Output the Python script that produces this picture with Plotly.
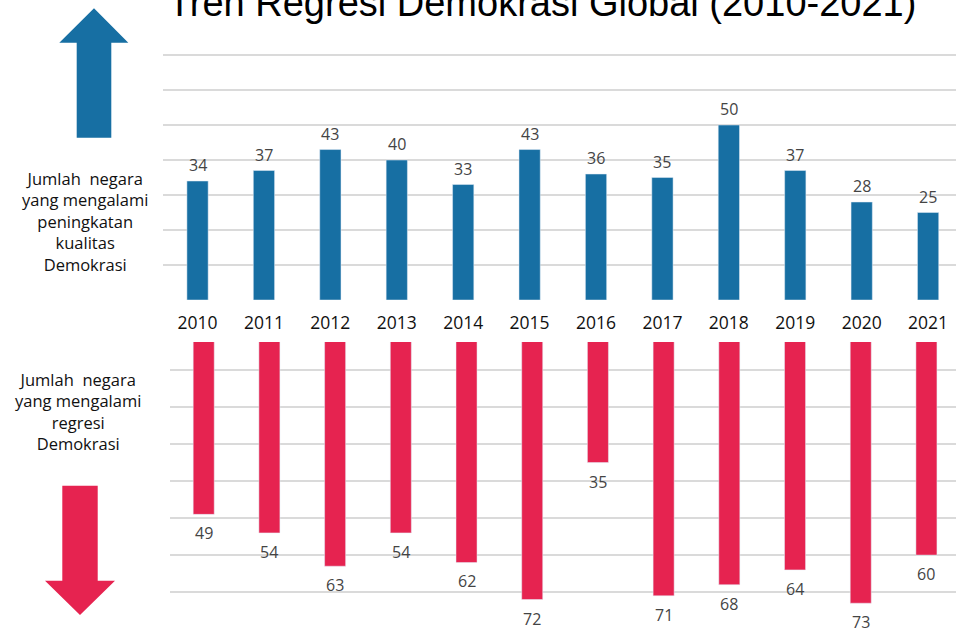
import plotly.graph_objects as go

years = ["2010", "2011", "2012", "2013", "2014", "2015", "2016", "2017", "2018", "2019", "2020", "2021"]
improved = [34, 37, 43, 40, 33, 43, 36, 35, 50, 37, 28, 25]
regressed = [49, 54, 63, 54, 62, 72, 35, 71, 68, 64, 73, 60]

title_text = "Tren Regresi Demokrasi Global (2010-2021)"
up_label = "Jumlah  negara<br>yang mengalami<br>peningkatan<br>kualitas<br>Demokrasi"
down_label = "Jumlah  negara<br>yang mengalami<br>regresi<br>Demokrasi"

W, H = 956, 628
BLUE = "#176fa3"
RED = "#e62350"
GRID = "#dadada"
LABEL = "#444444"
FONT = "Open Sans"

def px(x):
    return x / W

def py(y):
    return 1 - y / H

fig = go.Figure()

fig.add_trace(go.Bar(x=years, y=improved, marker_color=BLUE, width=0.32,
                     xaxis="x", yaxis="y", hoverinfo="x+y"))
fig.add_trace(go.Bar(x=years, y=regressed, marker_color=RED, width=0.32,
                     xaxis="x2", yaxis="y2", hoverinfo="x+y"))

annotations = []
for i, v in enumerate(improved):
    annotations.append(dict(x=i, y=v, xref="x", yref="y", text=str(v), showarrow=False,
                            yanchor="bottom", yshift=3, font=dict(family=FONT, size=16, color=LABEL)))
for i, v in enumerate(regressed):
    annotations.append(dict(x=i, y=v, xref="x2", yref="y2", text=str(v), showarrow=False,
                            yanchor="top", yshift=-6, font=dict(family=FONT, size=16, color=LABEL)))

annotations.append(dict(x=px(166), y=py(3), xref="paper", yref="paper", text=title_text,
                        showarrow=False, xanchor="left", yanchor="middle",
                        font=dict(family="Liberation Sans", size=38, color="#000000")))
annotations.append(dict(x=px(85), y=py(221.5), xref="paper", yref="paper", text=up_label,
                        showarrow=False, xanchor="center", yanchor="middle", align="center",
                        font=dict(family=FONT, size=16.5, color="#111111")))
annotations.append(dict(x=px(77.5), y=py(411), xref="paper", yref="paper", text=down_label,
                        showarrow=False, xanchor="center", yanchor="middle", align="center",
                        font=dict(family=FONT, size=16.5, color="#111111")))

up_pts = [(94, 8.3), (128.3, 42.7), (111.3, 42.7), (111.3, 137.7), (76.7, 137.7), (76.7, 42.7), (59.3, 42.7)]
down_pts = [(62.3, 485.7), (97.7, 485.7), (97.7, 580.7), (115, 580.7), (80, 615), (45, 580.7), (62.3, 580.7)]

def path(pts):
    return "M " + " L ".join(f"{px(x):.5f},{py(y):.5f}" for x, y in pts) + " Z"

shapes = [
    dict(type="path", xref="paper", yref="paper", path=path(up_pts), fillcolor=BLUE, line=dict(width=0), layer="above"),
    dict(type="path", xref="paper", yref="paper", path=path(down_pts), fillcolor=RED, line=dict(width=0), layer="above"),
]

fig.update_layout(
    width=W, height=H,
    margin=dict(l=0, r=0, t=0, b=0),
    paper_bgcolor="white", plot_bgcolor="white",
    showlegend=False,
    bargap=0.6,
    xaxis=dict(domain=[px(163), 1], range=[-0.52, 11.42], showgrid=False, zeroline=False,
               showline=False, ticks="", ticklabelstandoff=10,
               tickfont=dict(family=FONT, size=17.5, color="#111111")),
    yaxis=dict(domain=[py(300), py(20)], range=[0, 80.02], dtick=10, tick0=0, showgrid=True,
               gridcolor=GRID, gridwidth=1.5, zeroline=False, showticklabels=False, showline=False),
    xaxis2=dict(domain=[px(170), 1], range=[-0.513, 11.45], showgrid=False, zeroline=False,
                showline=False, showticklabels=False, ticks="", anchor="y2"),
    yaxis2=dict(domain=[0, py(342)], range=[79.7, 2.43], dtick=10, tick0=0, showgrid=True,
                gridcolor=GRID, gridwidth=1.5, zeroline=False, showticklabels=False, showline=False,
                anchor="x2"),
    annotations=annotations,
    shapes=shapes,
)

fig.write_html("out.html", config={"displayModeBar": False},
               post_script="document.body.style.margin='0';document.body.style.overflow='hidden';")
